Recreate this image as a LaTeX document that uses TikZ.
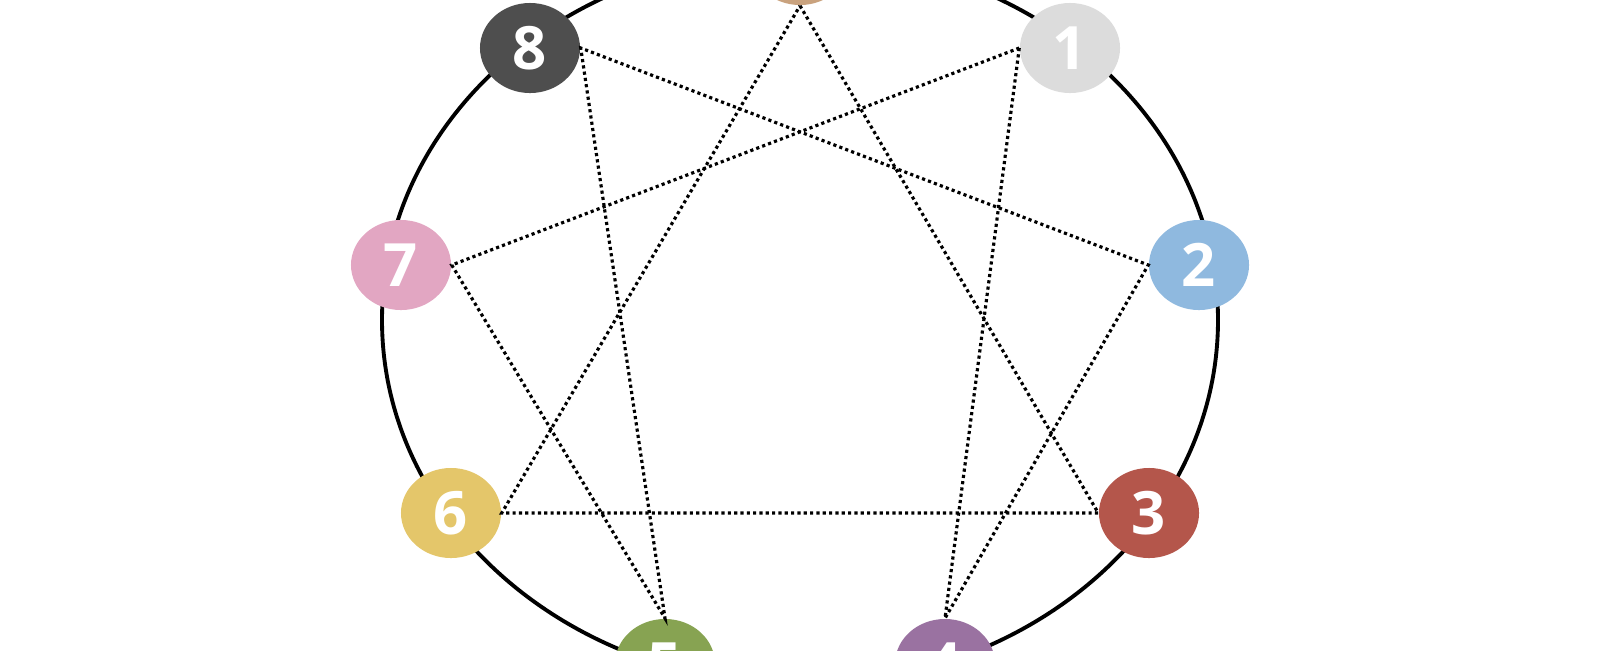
\documentclass[tikz,border=0pt]{standalone}
\usepackage{fontspec}
\setmainfont{Open Sans}
\usepackage{tikz}
\usetikzlibrary{shapes.geometric}
\definecolor{nine}{HTML}{C9A27E}
\definecolor{one}{HTML}{DCDCDC}
\definecolor{two}{HTML}{8FB9DF}
\definecolor{three}{HTML}{B4564B}
\definecolor{four}{HTML}{9A72A1}
\definecolor{five}{HTML}{87A352}
\definecolor{six}{HTML}{E4C66A}
\definecolor{seven}{HTML}{E2A6C2}
\definecolor{eight}{HTML}{4E4E4E}
\tikzstyle{point} = [ellipse, minimum width=1cm, minimum height=0.9cm, inner sep=0pt, text=white, font=\fontsize{17}{17}\selectfont\bfseries]
\tikzstyle{ring} = [line width=1.1pt, black]
\tikzstyle{link} = [line width=0.9pt, dash pattern=on 0.9pt off 0.9pt, black]

\begin{document}
\begin{tikzpicture}[x=0.01cm, y=0.01cm]
	\clip (0,0) rectangle (1600,650);
	\useasboundingbox (0,0) rectangle (1600,650);
	
	\draw [ring] (800,330) ellipse [x radius=418, y radius=365];
	
	\node (n9) [point, fill=nine] at (800,690) {9};
	\node (n1) [point, fill=one] at (1070,602) {1};
	\node (n2) [point, fill=two] at (1199,385) {2};
	\node (n3) [point, fill=three] at (1149,137) {3};
	\node (n4) [point, fill=four] at (945,-14) {4};
	\node (n5) [point, fill=five] at (665,-14) {5};
	\node (n6) [point, fill=six] at (451,137) {6};
	\node (n7) [point, fill=seven] at (401,385) {7};
	\node (n8) [point, fill=eight] at (530,602) {8};
	
	\draw [link] (n9.south) -- (n3.west) -- (n6.east) -- (n9.south);
	\draw [link] (n1.west) -- (n4.north) -- (n2.west) -- (n8.east) -- (n5.north) -- (n7.east) -- (n1.west);
	
\end{tikzpicture}
\end{document}
